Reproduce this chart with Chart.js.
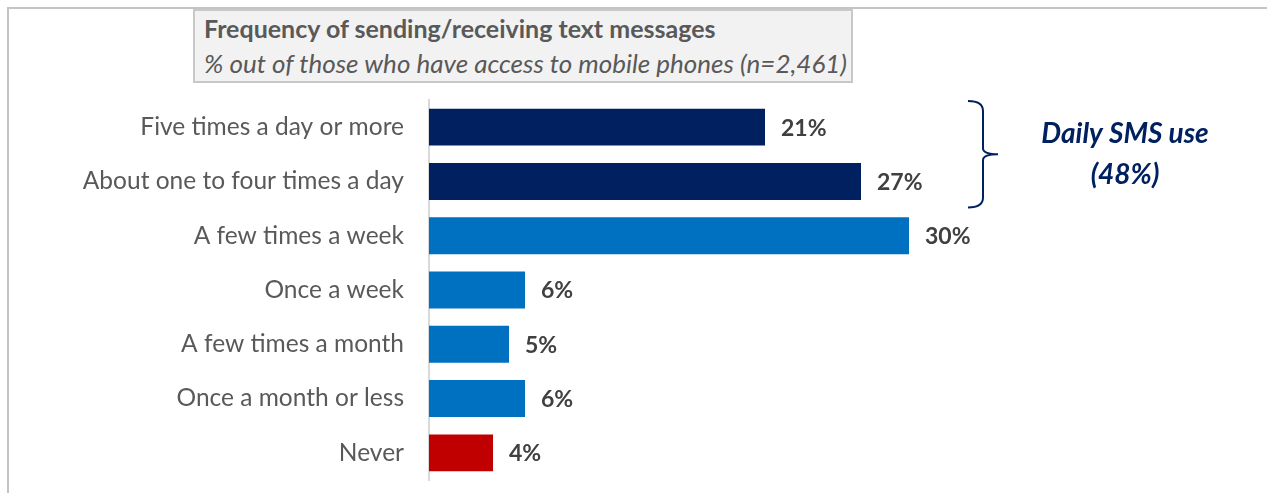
<!DOCTYPE html>
<html>
<head>
<meta charset="utf-8">
<script src="https://cdn.jsdelivr.net/npm/chart.js@4.4.1/dist/chart.umd.min.js"></script>
<style>
  html, body { margin: 0; padding: 0; background: #fff; }
  #wrap { position: relative; width: 1267px; height: 493px; overflow: hidden; font-family: Lato, "Open Sans", sans-serif; }
  #frame { position: absolute; left: 7px; top: 7px; width: 1300px; height: 520px; border-top: 2px solid #c4c4c4; border-left: 2px solid #c4c4c4; }
  #chart { position: absolute; left: 0; top: 0; }
  #titlebox { position: absolute; left: 193px; top: 9px; width: 656px; height: 70px; background: #f2f2f2; border: 2px solid #c8c8c8; box-sizing: content-box; color: #595959; }
  #titlebox .t1 { position: absolute; left: 9px; top: 2px; font-weight: bold; font-size: 25px; white-space: nowrap; line-height: normal; }
  #titlebox .t2 { position: absolute; left: 9px; top: 36px; font-style: italic; font-size: 26px; white-space: nowrap; line-height: normal; }
</style>
</head>
<body>
<div id="wrap">
  <div id="frame"></div>
  <canvas id="chart" width="1267" height="540"></canvas>
  <div id="titlebox">
    <div class="t1">Frequency of sending/receiving text messages</div>
    <div class="t2">% out of those who have access to mobile phones (n=2,461)</div>
  </div>
</div>
<script>
const categories = [
  'Five times a day or more',
  'About one to four times a day',
  'A few times a week',
  'Once a week',
  'A few times a month',
  'Once a month or less',
  'Never'
];
const shares = [21, 27, 30, 6, 5, 6, 4];
const barColors = ['#002060', '#002060', '#0070C0', '#0070C0', '#0070C0', '#0070C0', '#C00000'];
const dailyNote = ['Daily SMS use', '(48%)'];

const FONT = 'Lato, "Open Sans", sans-serif';
const AREA_TOP = 100, AREA_BOTTOM = 480;

// value labels at the end of each bar
const valueLabels = {
  id: 'valueLabels',
  afterDatasetsDraw(chart) {
    const ctx = chart.ctx;
    const meta = chart.getDatasetMeta(0);
    ctx.save();
    ctx.font = 'bold 23px ' + FONT;
    ctx.fillStyle = '#404040';
    ctx.textAlign = 'left';
    ctx.textBaseline = 'middle';
    meta.data.forEach((bar, i) => {
      ctx.fillText(shares[i] + '%', bar.x + 16, bar.y + 1);
    });
    ctx.restore();
  }
};

// brace grouping the two daily categories, with its note
const dailyBrace = {
  id: 'dailyBrace',
  afterDraw(chart) {
    const ctx = chart.ctx;
    const y = chart.scales.y;
    const half = (y.getPixelForValue(1) - y.getPixelForValue(0)) / 2;
    const top = y.getPixelForValue(0) - half + 1;
    const bottom = y.getPixelForValue(1) + half - 1;
    const mid = (top + bottom) / 2;
    const x0 = 968, x1 = 983, x2 = 998;
    ctx.save();
    ctx.strokeStyle = '#002060';
    ctx.lineWidth = 2;
    ctx.beginPath();
    ctx.moveTo(x0, top);
    ctx.quadraticCurveTo(x1, top, x1, top + 10);
    ctx.lineTo(x1, mid - 6);
    ctx.quadraticCurveTo(x1, mid, x2, mid);
    ctx.quadraticCurveTo(x1, mid, x1, mid + 6);
    ctx.lineTo(x1, bottom - 10);
    ctx.quadraticCurveTo(x1, bottom, x0, bottom);
    ctx.stroke();
    ctx.font = 'italic bold 28px ' + FONT;
    ctx.fillStyle = '#002060';
    ctx.textAlign = 'center';
    ctx.textBaseline = 'middle';
    ctx.fillText(dailyNote[0], 1125, mid - 20);
    ctx.fillText(dailyNote[1], 1125, mid + 21);
    ctx.restore();
  }
};

const chart = new Chart(document.getElementById('chart'), {
  type: 'bar',
  data: {
    labels: categories,
    datasets: [{
      data: shares,
      backgroundColor: barColors,
      borderWidth: 0,
      categoryPercentage: 1,
      barPercentage: 0.68
    }]
  },
  options: {
    indexAxis: 'y',
    responsive: false,
    animation: false,
    layout: { padding: { left: 0, right: 198, top: AREA_TOP, bottom: 540 - AREA_BOTTOM } },
    plugins: { legend: { display: false }, tooltip: { enabled: false } },
    scales: {
      x: {
        display: false,
        min: 0,
        max: 40
      },
      y: {
        afterFit(scale) { scale.width = 429; },
        grid: { display: false, drawTicks: false },
        border: { display: true, color: '#d9d9d9', width: 2 },
        ticks: {
          padding: 25,
          color: '#595959',
          font: { family: FONT, size: 24.5 }
        }
      }
    }
  },
  plugins: [valueLabels, dailyBrace]
});

// keep the plot area between the intended top and bottom edges
const pad = chart.options.layout.padding;
pad.top += AREA_TOP - chart.chartArea.top;
pad.bottom -= AREA_BOTTOM - chart.chartArea.bottom;
chart.update();
</script>
</body>
</html>
